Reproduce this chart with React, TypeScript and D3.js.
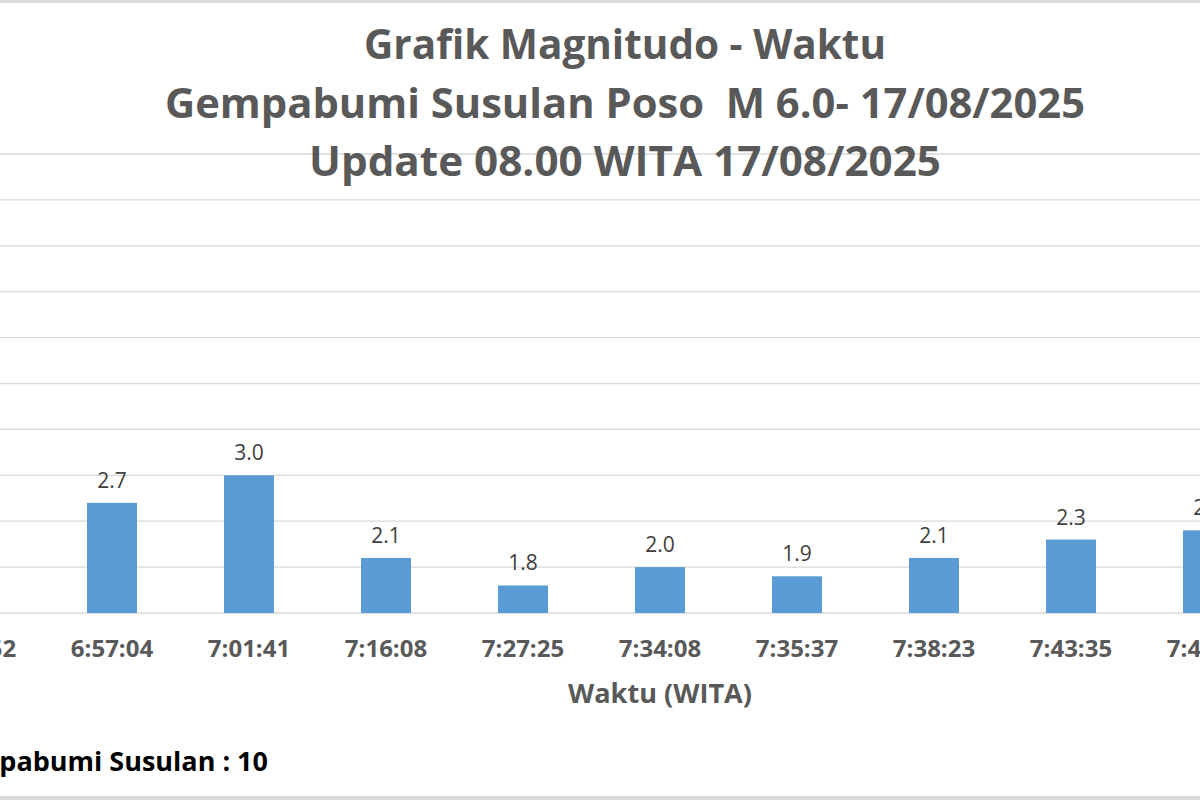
import React from "react";
import * as d3 from "d3";

const times = ["6:49:52", "6:57:04", "7:01:41", "7:16:08", "7:27:25", "7:34:08", "7:35:37", "7:38:23", "7:43:35", "7:48:10"];
const magnitudes = [2.5, 2.7, 3.0, 2.1, 1.8, 2.0, 1.9, 2.1, 2.3, 2.4];
const yTicks = [1.5, 2.0, 2.5, 3.0, 3.5, 4.0, 4.5, 5.0, 5.5, 6.0, 6.5];
const titleLines = [
  "Grafik Magnitudo - Waktu",
  "Gempabumi Susulan Poso  M 6.0- 17/08/2025",
  "Update 08.00 WITA 17/08/2025",
];
const titleWidths = [522, 920, 632];
const xTitle = "Waktu (WITA)";
const countLabel = "Jumlah Gempabumi Susulan : 10";

const W = 1200;
const H = 800;
const FONT = "'Open Sans', 'DejaVu Sans', sans-serif";

export default function App() {
  const x = d3
    .scaleBand<string>()
    .domain(times)
    .range([-93.5, 1276.5])
    .paddingInner(0.635)
    .paddingOuter(0.3175);
  const y = d3.scaleLinear().domain([1.5, 6.5]).range([613, 154]);
  const fmt = d3.format(".1f");

  return (
    <svg
      width={W}
      height={H}
      style={{ position: "fixed", left: 0, top: 0, background: "#fff" }}
      fontFamily={FONT}
    >
      <rect x={0} y={0} width={W} height={H} fill="#fff" />
      {/* outer border */}
      <rect x={0} y={0} width={W} height={3} fill="#D9D9D9" />
      <rect x={0} y={796} width={W} height={4} fill="#D9D9D9" />

      {/* gridlines */}
      {yTicks.map((t) => (
        <line key={t} x1={0} x2={W} y1={y(t)} y2={y(t)} stroke="#D9D9D9" strokeWidth={1.3} />
      ))}

      {/* bars */}
      {times.map((t, i) => (
        <rect
          key={t}
          x={x(t)!}
          y={y(magnitudes[i])}
          width={x.bandwidth()}
          height={y(1.5) - y(magnitudes[i])}
          fill="#5B9BD5"
        />
      ))}

      {/* data labels */}
      {times.map((t, i) => (
        <text
          key={"l" + t}
          x={x(t)! + x.bandwidth() / 2}
          y={y(magnitudes[i]) - 15}
          textAnchor="middle"
          fontSize={21}
          fill="#404040"
        >
          {fmt(magnitudes[i])}
        </text>
      ))}

      {/* x tick labels */}
      {times.map((t) => (
        <text
          key={"t" + t}
          x={x(t)! + x.bandwidth() / 2}
          y={657}
          textAnchor="middle"
          fontSize={24}
          fontWeight="bold"
          fill="#595959"
        >
          {t}
        </text>
      ))}

      {/* x axis title */}
      <text
        x={660}
        y={703}
        textAnchor="middle"
        fontSize={26}
        fontWeight="bold"
        fill="#595959"
        textLength={184}
        lengthAdjust="spacingAndGlyphs"
      >
        {xTitle}
      </text>

      {/* title */}
      {titleLines.map((l, i) => (
        <text
          key={l}
          x={625}
          y={59 + i * 58.5}
          textAnchor="middle"
          fontSize={41}
          fontWeight="bold"
          fill="#595959"
          textLength={titleWidths[i]}
          lengthAdjust="spacingAndGlyphs"
          style={{ whiteSpace: "pre" }}
        >
          {l}
        </text>
      ))}

      {/* count label */}
      <text x={268} y={771} textAnchor="end" fontSize={27} fontWeight="bold" fill="#000">
        {countLabel}
      </text>
    </svg>
  );
}
